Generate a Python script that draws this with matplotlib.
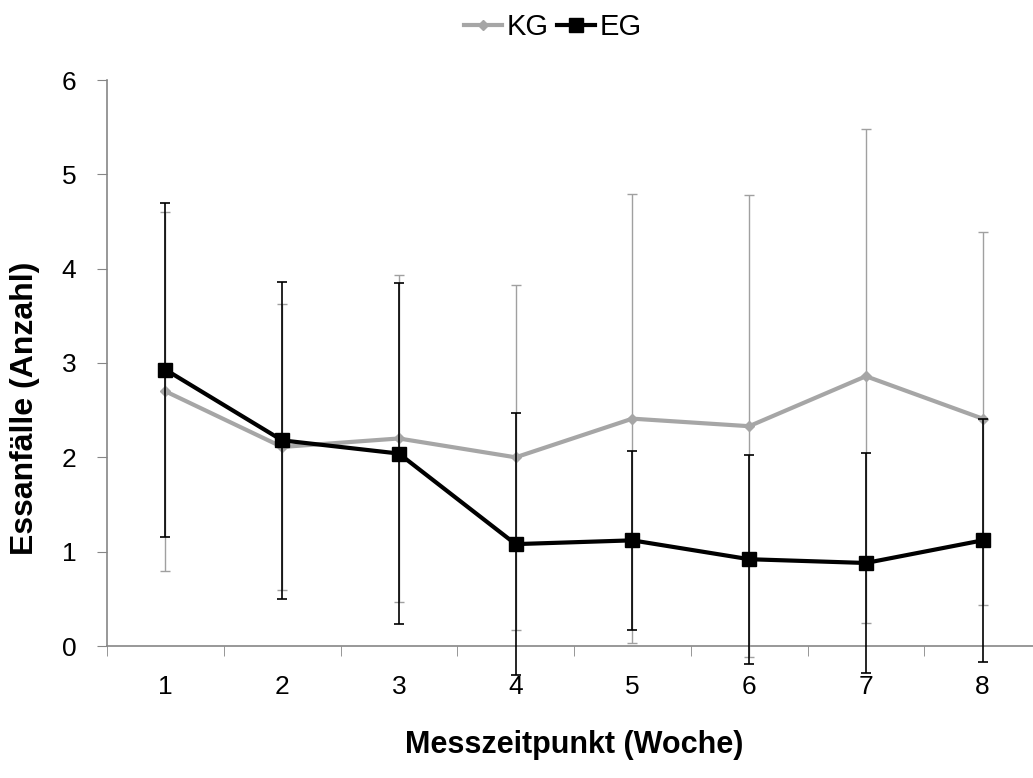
import numpy as np
import matplotlib.pyplot as plt
from matplotlib.lines import Line2D

# Daten
wochen = [1, 2, 3, 4, 5, 6, 7, 8]
kg_mittel = [2.70, 2.11, 2.20, 2.00, 2.41, 2.33, 2.86, 2.41]
kg_sd = [1.90, 1.52, 1.73, 1.83, 2.38, 2.45, 2.62, 1.98]
eg_mittel = [2.93, 2.18, 2.04, 1.08, 1.12, 0.92, 0.88, 1.12]
eg_sd = [1.77, 1.68, 1.81, 1.39, 0.95, 1.11, 1.17, 1.29]

plt.rcParams['font.family'] = ['Liberation Sans', 'DejaVu Sans']

fig = plt.figure(figsize=(10.33, 7.78), dpi=100)
ax = fig.add_axes([107 / 1033, 1 - 646 / 778, (1041 - 107) / 1033, (646 - 80) / 778])

grau = '#a6a6a6'
achse = '#868686'

ax.errorbar(wochen, kg_mittel, yerr=kg_sd, color=grau, lw=3, marker='D', ms=5,
            ecolor='#a0a0a0', elinewidth=1, capsize=3.5, capthick=1, clip_on=False,
            zorder=3)
ax.errorbar(wochen, eg_mittel, yerr=eg_sd, color='black', lw=3, marker='s', ms=10,
            ecolor='black', elinewidth=1.2, capsize=3.5, capthick=1.2, clip_on=False,
            zorder=4)

ax.set_xlim(0.5, 8.5)
ax.set_ylim(0, 6)
ax.set_yticks(range(0, 7))
ax.set_xticks(wochen)
ax.set_xticks(np.arange(0.5, 8.6, 1), minor=True)
ax.tick_params(axis='x', which='major', length=0, labelsize=19, pad=21)
ax.tick_params(axis='x', which='minor', length=7, color=achse, direction='out')
ax.tick_params(axis='y', length=7, color=achse, labelsize=19, pad=15)

for s in ['top', 'right']:
    ax.spines[s].set_visible(False)
for s in ['left', 'bottom']:
    ax.spines[s].set_color(achse)
    ax.spines[s].set_linewidth(1.2)

ax.set_xlabel('Messzeitpunkt (Woche)', fontsize=22, fontweight='bold', labelpad=22)
ax.set_ylabel('Essanfälle (Anzahl)', fontsize=23, fontweight='bold')
ax.yaxis.set_label_coords(-0.0717, 0.42)

# Legende ohne Fehlerbalken
h_kg = Line2D([], [], color=grau, lw=3, marker='D', ms=5)
h_eg = Line2D([], [], color='black', lw=3, marker='s', ms=10)
fig.legend([h_kg, h_eg], ['KG', 'EG'], loc='center', bbox_to_anchor=(553 / 1033, 1 - 27 / 778),
           ncol=2, frameon=False, fontsize=21, handlelength=1.3, handletextpad=0.15,
           columnspacing=0.3, borderpad=0)

fig.savefig('out.png', dpi=100)
